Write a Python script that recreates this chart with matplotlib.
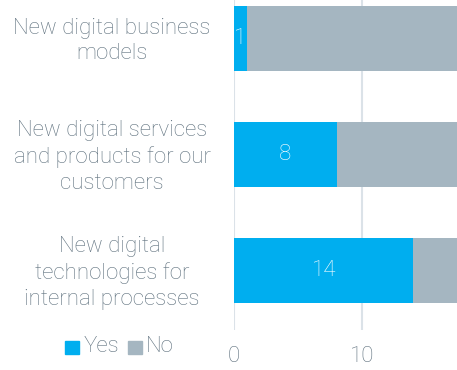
import matplotlib.pyplot as plt
from matplotlib.patches import Rectangle
from matplotlib.transforms import blended_transform_factory, offset_copy

# data
categories = ["New digital business\nmodels",
              "New digital services\nand products for our\ncustomers",
              "New digital\ntechnologies for\ninternal processes"]
yes_vals = [1, 8, 14]
no_vals = [19, 12, 6]
xticks = [0, 10, 20]

c_yes = "#00aeef"
c_no = "#a5b6c1"
c_text = "#5f717e"
c_grid = "#dbe2e8"
fs = 16

plt.rcParams['font.family'] = ['Roboto', 'DejaVu Sans']

fig = plt.figure(figsize=(4.57, 3.70), dpi=100)
ax = fig.add_axes([234 / 457, 1 - 330 / 370, 1 - 234 / 457, 330 / 370])

ypos = list(range(len(categories)))
ax.barh(ypos, yes_vals, height=0.56, color=c_yes, zorder=3)
ax.barh(ypos, no_vals, left=yes_vals, height=0.56, color=c_no, zorder=3)

for y, v in zip(ypos, yes_vals):
    ax.text(v / 2, y, str(v), ha='center', va='center', color='white',
            fontsize=fs, fontweight='light', zorder=4)

for x in xticks:
    ax.axvline(x, color=c_grid, lw=1.5, zorder=1)

ax.set_xlim(0, 17.4)
ax.set_ylim(2.51, -0.336)
ax.set_xticks([])
ax.set_yticks([])
for s in ax.spines.values():
    s.set_visible(False)

# category labels
tr = blended_transform_factory(fig.transFigure, ax.transData)
tr = offset_copy(tr, fig=fig, y=-2, units='dots')
for y, lab in zip(ypos, categories):
    ax.text(112 / 457, y, lab, transform=tr, ha='center', va='center',
            multialignment='center', color=c_text, fontsize=fs,
            fontweight='light', linespacing=1.3, clip_on=False)

# x tick labels
trx = blended_transform_factory(ax.transData, fig.transFigure)
for x in xticks[:2]:
    ax.text(x, 1 - 356 / 370, str(x), transform=trx, ha='center', va='center',
            color=c_text, fontsize=fs, fontweight='light', clip_on=False)

# legend
fig.patches.append(Rectangle((65 / 457, 1 - 354 / 370), 14 / 457, 13 / 370,
                             transform=fig.transFigure, color=c_yes))
fig.text(84 / 457, 1 - 347 / 370, "Yes", ha='left', va='center',
         color=c_text, fontsize=fs, fontweight='light')
fig.patches.append(Rectangle((128 / 457, 1 - 354 / 370), 14 / 457, 13 / 370,
                             transform=fig.transFigure, color=c_no))
fig.text(146 / 457, 1 - 347 / 370, "No", ha='left', va='center',
         color=c_text, fontsize=fs, fontweight='light')

fig.savefig("out.png", dpi=100)
